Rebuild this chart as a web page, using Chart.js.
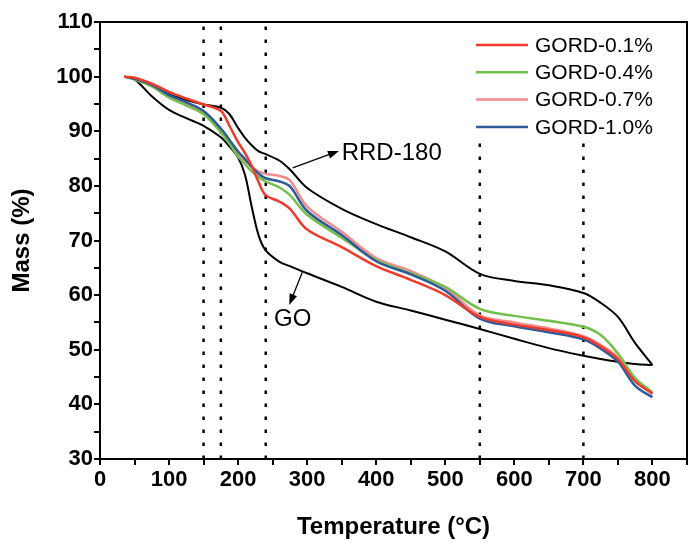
<!DOCTYPE html>
<html>
<head>
<meta charset="utf-8">
<script src="https://cdn.jsdelivr.net/npm/chart.js@4.4.1/dist/chart.umd.min.js"></script>
<style>
  html, body { margin: 0; padding: 0; background: #fff; }
  #wrap { width: 689px; height: 544px; }
</style>
</head>
<body>
<div id="wrap"><canvas id="tga" width="689" height="544"></canvas></div>
<script>
// temperatures (ºC) where the curves were read
var temps = [35, 50, 75, 100, 125, 150, 175, 187, 200, 210, 220, 230, 240, 260, 275, 300, 350, 400, 450, 500, 550, 600, 650, 700, 725, 750, 775, 800];

var gord01 = [100, 99.8, 98.7, 97.2, 96.0, 94.9, 93.7, 91.1, 88.0, 86.0, 83.6, 80.6, 78.3, 77.1, 75.8, 72.0, 68.8, 65.3, 62.8, 60.0, 56.0, 54.6, 53.6, 52.3, 50.6, 48.3, 44.2, 42.0];
var gord04 = [100, 99.5, 98.2, 96.2, 94.7, 93.1, 89.8, 87.8, 85.4, 84.0, 82.6, 81.6, 80.8, 79.7, 78.3, 74.7, 70.5, 66.4, 64.0, 61.5, 57.5, 56.2, 55.3, 54.2, 52.7, 49.3, 44.8, 42.2];
var gord07 = [100, 99.5, 98.3, 96.2, 94.9, 93.5, 90.1, 88.2, 86.0, 84.7, 83.5, 82.6, 82.2, 81.8, 81.0, 76.2, 71.6, 66.8, 64.4, 61.3, 56.3, 55.0, 53.9, 52.5, 50.9, 48.6, 44.3, 41.9];
var gord10 = [100, 99.6, 98.5, 96.6, 95.3, 93.7, 90.5, 88.5, 86.3, 84.9, 83.4, 82.2, 81.4, 80.8, 79.9, 75.4, 71.0, 66.2, 63.8, 60.8, 55.7, 54.3, 53.2, 51.9, 50.2, 47.8, 43.4, 41.3];
var rrd180 = [100, 99.6, 98.4, 96.8, 95.7, 94.9, 94.3, 93.2, 90.6, 88.8, 87.4, 86.3, 85.8, 84.6, 83.0, 79.6, 75.8, 73.0, 70.6, 68.0, 63.9, 62.6, 61.8, 60.4, 58.6, 56.0, 51.2, 47.2];
var go     = [100, 99.5, 96.4, 93.9, 92.4, 91.0, 88.9, 87.3, 85.2, 82.0, 76.0, 70.8, 68.2, 66.1, 65.3, 64.0, 61.5, 58.8, 57.2, 55.5, 53.8, 52.0, 50.3, 48.9, 48.3, 47.8, 47.4, 47.2];

// dotted guide lines
var guideX   = [150, 175, 240, 550, 700];
var guideTop = [110, 110, 110, 88.5, 88.5];

var legendNames = ['GORD-0.1%', 'GORD-0.4%', 'GORD-0.7%', 'GORD-1.0%'];
var legendColors = ['#ef3b2c', '#72c04b', '#f58a8c', '#2f5a9a'];

function pts(arr) {
  var out = [];
  for (var i = 0; i < temps.length; i++) out.push({x: temps[i], y: arr[i]});
  return out;
}

function curve(label, color, arr, w) {
  return {
    label: label,
    data: pts(arr),
    borderColor: color,
    backgroundColor: color,
    borderWidth: w,
    pointRadius: 0,
    fill: false,
    tension: 0.35
  };
}

var datasets = [
  curve('GORD-0.1%', legendColors[0], gord01, 2.5),
  curve('GORD-1.0%', legendColors[3], gord10, 2.5),
  curve('GORD-0.4%', legendColors[1], gord04, 2.5),
  curve('GORD-0.7%', legendColors[2], gord07, 2.5),
  curve('RRD-180', '#000', rrd180, 2),
  curve('GO', '#000', go, 2)
];
for (var g = 0; g < guideX.length; g++) {
  datasets.push({
    label: 'guide' + g,
    data: [{x: guideX[g], y: 30}, {x: guideX[g], y: guideTop[g]}],
    borderColor: '#000',
    borderWidth: 2.5,
    borderDash: [3.5, 9.5],
    pointRadius: 0,
    fill: false
  });
}

// text labels with arrows, in data units
var notes = [
  {text: 'RRD-180', tx: 350, ty: 85.9, from: [279, 83.3], to: [346, 86.4]},
  {text: 'GO', tx: 252, ty: 55.6, from: [293, 64.2], to: [274, 58.2]}
];

var framePlugin = {
  id: 'frame',
  afterDraw: function(chart) {
    var c = chart.ctx, a = chart.chartArea;
    var xs = chart.scales.x, ys = chart.scales.y;
    c.save();
    c.strokeStyle = '#000';
    c.lineWidth = 2;
    c.strokeRect(a.left, a.top, a.right - a.left, a.bottom - a.top);

    // legend
    c.font = '21px "Liberation Sans", Arial, sans-serif';
    c.textBaseline = 'middle';
    c.fillStyle = '#000';
    for (var i = 0; i < legendNames.length; i++) {
      var y = 45 + i * 27.3;
      c.strokeStyle = legendColors[i];
      c.lineWidth = 2.5;
      c.beginPath();
      c.moveTo(476, y);
      c.lineTo(528, y);
      c.stroke();
      c.fillText(legendNames[i], 535, y + 1);
    }

    // notes
    c.font = '24px "Liberation Sans", Arial, sans-serif';
    notes.forEach(function(n) {
      var x1 = xs.getPixelForValue(n.from[0]), y1 = ys.getPixelForValue(n.from[1]);
      var x2 = xs.getPixelForValue(n.to[0]), y2 = ys.getPixelForValue(n.to[1]);
      var ang = Math.atan2(y2 - y1, x2 - x1);
      c.strokeStyle = '#000';
      c.lineWidth = 1.3;
      c.beginPath();
      c.moveTo(x1, y1);
      c.lineTo(x2 - 8 * Math.cos(ang), y2 - 8 * Math.sin(ang));
      c.stroke();
      c.beginPath();
      c.moveTo(x2, y2);
      c.lineTo(x2 - 11 * Math.cos(ang) + 4 * Math.sin(ang), y2 - 11 * Math.sin(ang) - 4 * Math.cos(ang));
      c.lineTo(x2 - 11 * Math.cos(ang) - 4 * Math.sin(ang), y2 - 11 * Math.sin(ang) + 4 * Math.cos(ang));
      c.closePath();
      c.fill();
      c.fillText(n.text, xs.getPixelForValue(n.tx), ys.getPixelForValue(n.ty));
    });
    c.restore();
  }
};

var tickFont = {family: '"Liberation Sans", Arial, sans-serif', size: 22, weight: 'bold'};
var titleFont = {family: '"Liberation Sans", Arial, sans-serif', size: 24, weight: 'bold'};

new Chart(document.getElementById('tga'), {
  type: 'line',
  data: {datasets: datasets},
  plugins: [framePlugin],
  options: {
    responsive: false,
    animation: false,
    layout: {padding: {top: 22, right: 2, left: 0, bottom: 0}},
    plugins: {legend: {display: false}, tooltip: {enabled: false}},
    scales: {
      x: {
        type: 'linear',
        min: 0, max: 850,
        afterFit: function(s) { s.height = 85; },
        border: {display: true, color: '#000', width: 2},
        grid: {drawOnChartArea: false, color: '#000', tickLength: 6, lineWidth: 2},
        ticks: {
          stepSize: 50, color: '#000', font: tickFont, padding: 2, maxRotation: 0, autoSkip: false,
          callback: function(v) { return v % 100 === 0 ? v : ''; }
        },
        title: {display: true, text: 'Temperature (°C)', color: '#000', font: titleFont, padding: {top: 10, bottom: 2}}
      },
      y: {
        min: 30, max: 110,
        afterFit: function(s) { s.width = 100; },
        border: {display: true, color: '#000', width: 2},
        grid: {drawOnChartArea: false, color: '#000', tickLength: 6, lineWidth: 2},
        ticks: {
          stepSize: 5, color: '#000', font: tickFont, padding: 1, autoSkip: false,
          callback: function(v) { return v % 10 === 0 ? v : ''; }
        },
        title: {display: true, text: 'Mass (%)', color: '#000', font: titleFont, padding: {top: 8, bottom: 0}}
      }
    }
  }
});
</script>
</body>
</html>
